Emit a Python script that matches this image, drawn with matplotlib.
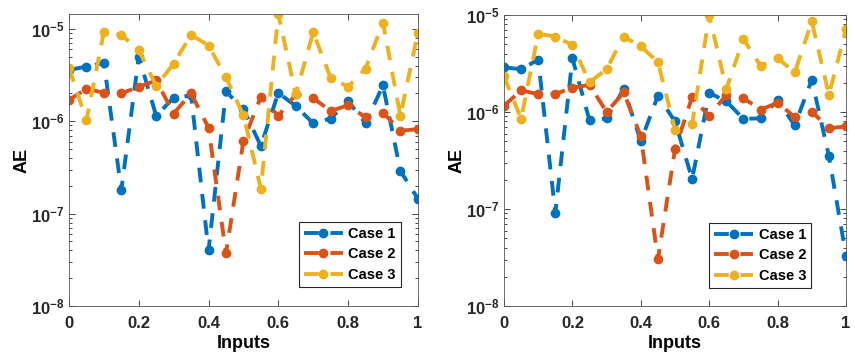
import numpy as np
from matplotlib import pyplot as plt
from matplotlib.ticker import FuncFormatter, LogLocator, NullFormatter

plt.rcParams['font.family'] = ['Liberation Sans', 'DejaVu Sans']
plt.rcParams['font.weight'] = 'bold'
plt.rcParams['mathtext.fontset'] = 'custom'
plt.rcParams['mathtext.rm'] = 'Liberation Sans:bold'
plt.rcParams['mathtext.bf'] = 'Liberation Sans:bold'

inputs = np.linspace(0, 1, 21)

# left panel
left_case1 = [3.6e-6, 3.9e-6, 4.3e-6, 1.8e-7, 5.0e-6, 1.14e-6, 1.8e-6, 1.9e-6, 4.0e-8, 2.1e-6,
              1.35e-6, 5.4e-7, 2.03e-6, 1.46e-6, 9.5e-7, 1.07e-6, 1.65e-6, 9.5e-7, 2.44e-6, 2.9e-7, 1.45e-7]
left_case2 = [1.7e-6, 2.25e-6, 2.03e-6, 2.0e-6, 2.36e-6, 2.76e-6, 1.21e-6, 2.0e-6, 8.5e-7, 3.7e-8,
              6.1e-7, 1.84e-6, 1.14e-6, 1.95e-6, 1.78e-6, 1.29e-6, 1.49e-6, 1.1e-6, 1.24e-6, 7.9e-7, 8.2e-7]
left_case3 = [3.8e-6, 1.02e-6, 9.3e-6, 8.6e-6, 5.9e-6, 2.4e-6, 4.2e-6, 8.6e-6, 6.6e-6, 3.0e-6,
              1.16e-6, 1.86e-7, 1.45e-5, 1.95e-6, 9.2e-6, 2.95e-6, 2.36e-6, 3.7e-6, 1.17e-5, 1.14e-6, 9.1e-6]

# right panel
right_case1 = [2.88e-6, 2.77e-6, 3.46e-6, 9.1e-8, 3.57e-6, 8.2e-7, 8.6e-7, 1.73e-6, 5.0e-7, 1.47e-6,
               8.0e-7, 2.04e-7, 1.57e-6, 1.29e-6, 8.5e-7, 8.6e-7, 1.32e-6, 7.3e-7, 2.15e-6, 3.5e-7, 3.3e-8]
right_case2 = [1.16e-6, 1.67e-6, 1.53e-6, 1.54e-6, 1.77e-6, 1.91e-6, 1.0e-6, 1.59e-6, 5.6e-7, 3.05e-8,
               4.15e-7, 1.43e-6, 9.0e-7, 1.51e-6, 1.39e-6, 1.06e-6, 1.24e-6, 8.9e-7, 1.01e-6, 6.8e-7, 7.1e-7]
right_case3 = [2.33e-6, 8.5e-7, 6.4e-6, 6.0e-6, 4.9e-6, 2.02e-6, 2.77e-6, 6.0e-6, 4.75e-6, 3.27e-6,
               6.6e-7, 7.5e-7, 1.0e-5, 1.73e-6, 5.65e-6, 3.0e-6, 3.6e-6, 2.56e-6, 8.6e-6, 1.5e-6, 7.2e-6]

labels = ["Case 1", "Case 2", "Case 3"]
colors = ["#0072BD", "#D95319", "#EDB120"]


def pow_fmt(v, pos):
    return r'$\mathbf{10^{%d}}$' % round(np.log10(v))


fig = plt.figure(figsize=(8.55, 3.61), dpi=100)
ax1 = fig.add_axes([0.0807, 0.1524, 0.408, 0.809])
ax2 = fig.add_axes([0.5895, 0.1524, 0.400, 0.806])

panels = [
    (ax1, [left_case1, left_case2, left_case3], (0.951, 0.065)),
    (ax2, [right_case1, right_case2, right_case3], (0.898, 0.062)),
]

for ax, series, leg_pos in panels:
    for vals, lab, col in zip(series, labels, colors):
        ax.plot(inputs, vals, color=col, linewidth=2.8, linestyle=(0, (3.8, 3.0)),
                marker='o', markersize=6, label=lab)
    ax.set_yscale('log')
    ymax = max(max(s) for s in series)
    ax.set_ylim(1e-8, ymax)
    ax.set_xlim(0, 1)
    ax.set_xticks([0, 0.2, 0.4, 0.6, 0.8, 1])
    ax.set_xticklabels(["0", "0.2", "0.4", "0.6", "0.8", "1"])
    ax.yaxis.set_major_locator(LogLocator(base=10, numticks=10))
    ax.yaxis.set_minor_locator(LogLocator(base=10, subs=np.arange(2, 10), numticks=10))
    ax.yaxis.set_major_formatter(FuncFormatter(pow_fmt))
    ax.yaxis.set_minor_formatter(NullFormatter())
    ax.tick_params(which='both', direction='in', top=True, right=True,
                   labelsize=12, colors='#262626', width=0.6)
    ax.tick_params(which='major', length=4)
    ax.tick_params(which='minor', length=2.5)
    ax.tick_params(axis='x', which='major', pad=7)
    for sp in ax.spines.values():
        sp.set_color('#555555')
        sp.set_linewidth(0.6)
    ax.set_xlabel("Inputs", fontsize=13, fontweight='bold', labelpad=3)
    ax.set_ylabel("AE", fontsize=13, fontweight='bold', labelpad=0)
    leg = ax.legend(loc='lower right', bbox_to_anchor=leg_pos, borderaxespad=0,
                    fancybox=False, framealpha=1, edgecolor='#262626',
                    fontsize=10.5, handlelength=2.7, handletextpad=0.35,
                    labelspacing=0.45, borderpad=0.35)
    leg.get_frame().set_linewidth(0.8)

fig.savefig("out.png", dpi=100)
